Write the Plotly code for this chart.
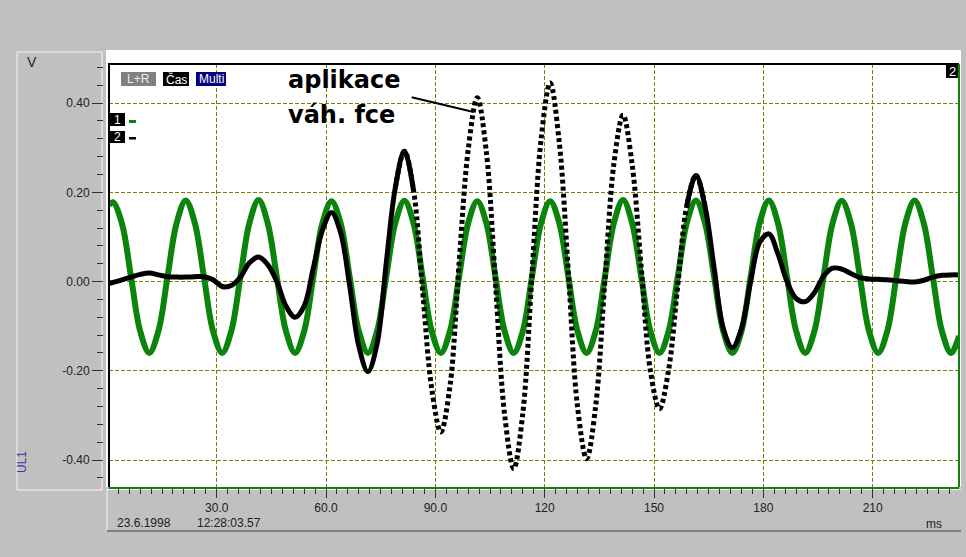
import plotly.graph_objects as go

# ---------------- data ----------------
time_ms = [0.4,
    1.5, 4.0, 6.5, 9.0, 11.5, 14.0, 16.5, 19.0,
    21.5, 24.0, 26.5, 29.0, 31.5, 34.0, 36.5, 39.0,
    41.5, 44.0, 46.5, 49.0, 51.5, 54.0, 56.5, 59.0,
    61.5, 64.0, 66.5, 69.0, 71.5, 74.0, 76.5, 79.0,
    81.5, 84.0, 86.5, 89.0, 91.5, 94.0, 96.5, 99.0,
    101.5, 104.0, 106.5, 109.0, 111.5, 114.0, 116.5, 119.0,
    121.5, 124.0, 126.5, 129.0, 131.5, 134.0, 136.5, 139.0,
    141.5, 144.0, 146.5, 149.0, 151.5, 154.0, 156.5, 159.0,
    161.5, 164.0, 166.5, 169.0, 171.5, 174.0, 176.5, 179.0,
    181.5, 184.0, 186.5, 189.0, 191.5, 194.0, 196.5, 199.0,
    201.5, 204.0, 206.5, 209.0, 211.5, 214.0, 216.5, 219.0,
    221.5, 224.0, 226.5, 229.0, 231.5,
    233.7]

# channel 1 (green)
green_v = [0.171,
    0.178, 0.130, 0.010, -0.111, -0.160, -0.111, 0.010, 0.131,
    0.182, 0.131, 0.010, -0.111, -0.160, -0.111, 0.010, 0.132,
    0.183, 0.131, 0.010, -0.111, -0.160, -0.111, 0.010, 0.131,
    0.180, 0.131, 0.010, -0.111, -0.160, -0.111, 0.010, 0.131,
    0.181, 0.131, 0.010, -0.111, -0.160, -0.111, 0.010, 0.131,
    0.180, 0.131, 0.010, -0.111, -0.160, -0.111, 0.010, 0.131,
    0.180, 0.131, 0.010, -0.111, -0.160, -0.111, 0.010, 0.132,
    0.183, 0.131, 0.010, -0.111, -0.160, -0.111, 0.010, 0.132,
    0.182, 0.131, 0.010, -0.111, -0.160, -0.111, 0.010, 0.132,
    0.182, 0.131, 0.010, -0.111, -0.160, -0.111, 0.010, 0.131,
    0.181, 0.131, 0.010, -0.111, -0.160, -0.111, 0.010, 0.132,
    0.182, 0.131, 0.010, -0.111, -0.160,
    -0.122]

# channel 2 (black, weighted)
black_v = [-0.004,
    -0.002, 0.004, 0.010, 0.016, 0.019, 0.015, 0.011, 0.010,
    0.010, 0.011, 0.011, 0.004, -0.011, -0.009, 0.010, 0.042,
    0.055, 0.038, 0.000, -0.055, -0.080, -0.055, 0.030, 0.115,
    0.155, 0.110, -0.010, -0.145, -0.202, -0.140, 0.040, 0.210,
    0.292, 0.205, -0.020, -0.240, -0.337, -0.235, 0.040, 0.295,
    0.412, 0.290, -0.005, -0.298, -0.419, -0.295, 0.015, 0.318,
    0.445, 0.312, 0.020, -0.280, -0.397, -0.278, 0.000, 0.265,
    0.373, 0.262, 0.030, -0.200, -0.285, -0.198, -0.010, 0.170,
    0.238, 0.168, 0.030, -0.105, -0.148, -0.105, 0.000, 0.088,
    0.107, 0.062, 0.000, -0.038, -0.045, -0.025, 0.012, 0.030,
    0.028, 0.018, 0.009, 0.006, 0.005, 0.004, 0.002, 0.000,
    -0.001, 0.003, 0.010, 0.014, 0.015,
    0.015]

x_tick_vals = [30, 60, 90, 120, 150, 180, 210]
x_tick_text = ["30.0", "60.0", "90.0", "120", "150", "180", "210"]
y_tick_vals = [-0.4, -0.2, 0.0, 0.2, 0.4]
y_tick_text = ["-0.40", "-0.20", "0.00", "0.20", "0.40"]

# ---------------- geometry helpers ----------------
W, H = 966, 557
PT, PB = 64, 487          # plot area top/bottom in pixels
PL, PR = 109, 959         # plot area left/right in pixels


def fx(px):
    return px / W


def fy(py):
    return (PB - py) / (PB - PT)


FONT = "Liberation Sans, Arial, sans-serif"
GREEN = "#0a840a"

fig = go.Figure()

fig.add_trace(go.Scatter(x=time_ms, y=green_v, mode="lines",
                         line=dict(color=GREEN, width=6, shape="spline", smoothing=1.0),
                         hoverinfo="skip"))

# black channel: solid where samples overlap, dotted in the large-swing middle part
i_a = time_ms.index(84.0)
i_b = time_ms.index(79.0)
i_c = time_ms.index(164.0)
i_d = time_ms.index(159.0)
fig.add_trace(go.Scatter(x=time_ms[:i_a + 1], y=black_v[:i_a + 1], mode="lines",
                         line=dict(color="black", width=5, shape="spline", smoothing=1.0),
                         hoverinfo="skip"))
fig.add_trace(go.Scatter(x=time_ms[i_b:i_c + 1], y=black_v[i_b:i_c + 1], mode="lines",
                         line=dict(color="black", width=5, shape="spline", smoothing=1.0,
                                   dash="4px,3px"),
                         hoverinfo="skip"))
fig.add_trace(go.Scatter(x=time_ms[i_d:], y=black_v[i_d:], mode="lines",
                         line=dict(color="black", width=5, shape="spline", smoothing=1.0),
                         hoverinfo="skip"))

shapes = []


def rect(x0, y0, x1, y1, fill, line_color=None, lw=0, layer="below"):
    shapes.append(dict(type="rect", xref="paper", yref="paper",
                       x0=fx(x0), x1=fx(x1), y0=fy(y1), y1=fy(y0),
                       fillcolor=fill, layer=layer,
                       line=dict(width=lw, color=line_color or fill)))


def hline(x0, x1, y, color, lw=1, layer="above"):
    shapes.append(dict(type="line", xref="paper", yref="paper",
                       x0=fx(x0), x1=fx(x1), y0=fy(y), y1=fy(y),
                       layer=layer, line=dict(color=color, width=lw)))


def vline(x, y0, y1, color, lw=1, layer="above"):
    shapes.append(dict(type="line", xref="paper", yref="paper",
                       x0=fx(x), x1=fx(x), y0=fy(y0), y1=fy(y1),
                       layer=layer, line=dict(color=color, width=lw)))


# white chart panel
rect(106, 50, 961, 487, "white")
# left (y-axis) panel with light border
rect(17, 52, 102, 490, "#c0c0c0", "#f4f4f4", 1)
# bottom (x-axis) panel edges
vline(107, 489, 531, "#f4f4f4", 1, "below")
hline(107, 961, 489.5, "#f4f4f4", 1, "below")
hline(107, 961, 531, "#808080", 2, "below")
# plot frame: black top/left, green right
hline(PL - 1, PR, PT, "black", 2)
vline(PL, PT, PB, "black", 2)
vline(PR, PT, PB, GREEN, 2)

# badges
rect(121, 72, 156, 86, "#808080", layer="above")
rect(163, 72, 189, 86, "black", layer="above")
rect(196, 72, 226, 86, "#000080", layer="above")
rect(110, 113, 125, 126, "black", layer="above")
rect(110, 131, 125, 143, "black", layer="above")
rect(129, 120, 136, 123, GREEN, layer="above")
rect(129, 137, 136, 139.5, "black", layer="above")
rect(946, 64, 958, 78, "black", layer="above")

# pointer line of the annotation (data coordinates)
shapes.append(dict(type="line", xref="x", yref="y", x0=83.5, y0=0.413, x1=100.5, y1=0.380,
                   layer="above", line=dict(color="black", width=2)))

annotations = []


def text(s, x, y, size=12, color="black", xanchor="center", family=FONT, angle=0, bold=False):
    annotations.append(dict(text=("<b>%s</b>" % s) if bold else s, x=fx(x), y=fy(y),
                            xref="paper", yref="paper", showarrow=False,
                            xanchor=xanchor, yanchor="middle", textangle=angle,
                            font=dict(size=size, color=color, family=family)))


text("L+R", 138.5, 79, 12, "#eeeeee")
text("Čas", 176, 79, 12, "white")
text("Multi", 211, 79, 12, "white")
text("1", 117.5, 119.5, 12, "white")
text("2", 117.5, 137, 12, "white")
text("2", 952, 71, 13, "white")
text("V", 32, 62, 14, "#202020")
text("UL1", 22, 462, 12, "#3a3a9a", angle=-90)
text("23.6.1998", 115, 523, 12, "#202020", xanchor="left")
text("12:28:03.57", 195, 523, 12, "#202020", xanchor="left")
text("ms", 924, 524, 12, "#202020", xanchor="left")
text("aplikace", 286, 80, 24, "black", xanchor="left", family="DejaVu Sans", bold=True)
text("váh. fce", 286, 115, 24, "black", xanchor="left", family="DejaVu Sans", bold=True)

grid_common = dict(showgrid=True, gridcolor="#808000", gridwidth=1, griddash="4px,2px",
                   zeroline=False)

fig.update_layout(
    width=W, height=H,
    margin=dict(l=0, r=0, t=PT, b=H - PB),
    paper_bgcolor="#c0c0c0", plot_bgcolor="white",
    showlegend=False,
    shapes=shapes, annotations=annotations,
    xaxis=dict(domain=[fx(PL), fx(PR)], range=[(PL - 107.37) / 3.6444, (PR - 107.37) / 3.6444],
               tickmode="array", tickvals=x_tick_vals, ticktext=x_tick_text,
               ticks="outside", ticklen=9, tickwidth=1, tickcolor="#303030",
               showline=True, linecolor=GREEN, linewidth=2,
               tickfont=dict(family=FONT, size=12, color="#202020"),
               minor=dict(dtick=3, tick0=0, ticks="outside", ticklen=5, tickcolor="#303030",
                          showgrid=False),
               **grid_common),
    yaxis=dict(anchor="free", position=fx(103), range=[-0.4605, 0.4877],
               tickmode="array", tickvals=y_tick_vals, ticktext=y_tick_text,
               ticks="outside", ticklen=11, tickwidth=1, tickcolor="#303030",
               showline=False,
               tickfont=dict(family=FONT, size=12, color="#202020"),
               minor=dict(dtick=0.04, tick0=0, ticks="outside", ticklen=6, tickcolor="#303030",
                          showgrid=False),
               **grid_common),
)

fig.write_html("out.html", config={"displayModeBar": False},
               post_script="document.body.style.margin='0';document.body.style.overflow='hidden';")
